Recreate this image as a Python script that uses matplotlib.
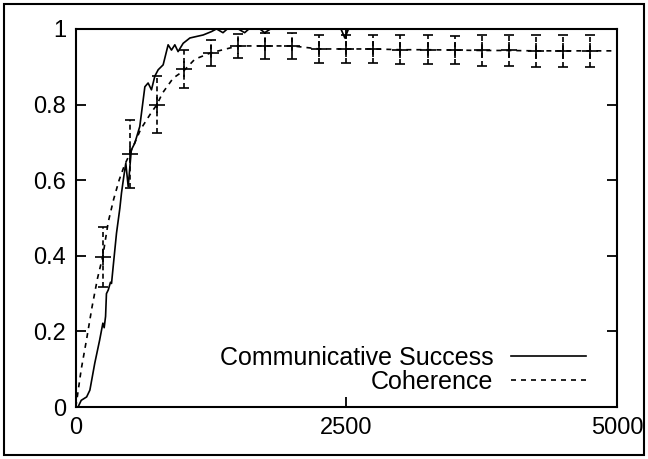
import matplotlib.pyplot as plt
import matplotlib.patches as mpatches

plt.rcParams['font.family'] = ['Liberation Sans', 'DejaVu Sans']

# communicative success (noisy solid line)
succ_x = [0, 20, 50, 100, 130, 175, 220, 250, 262, 275, 283, 300, 320, 330, 345, 376, 407,
          422, 443, 462, 484, 513, 545, 591, 638, 668, 699, 730, 761, 807, 853, 884, 915,
          945, 992, 1054, 1115, 1177, 1254, 1300, 1360, 1400, 1500, 1560, 1600, 1700, 1745,
          1800, 2000, 2200, 2450, 2486, 2520, 2700, 3000, 3500, 4000, 4500, 5000]
succ_y = [0.0, 0.0, 0.018, 0.027, 0.045, 0.116, 0.177, 0.222, 0.21, 0.24, 0.30, 0.31, 0.33,
          0.327, 0.371, 0.46, 0.526, 0.566, 0.609, 0.645, 0.583, 0.68, 0.698, 0.742, 0.847,
          0.857, 0.839, 0.875, 0.892, 0.905, 0.958, 0.944, 0.958, 0.94, 0.962, 0.976, 0.98,
          0.984, 0.993, 1.0, 0.99, 1.0, 1.0, 0.99, 1.0, 1.0, 0.99, 1.0, 1.0, 1.0, 1.0, 0.976,
          1.0, 1.0, 1.0, 1.0, 1.0, 1.0, 1.0]

# coherence (dashed line)
coh_x = [0, 50, 100, 150, 200, 250, 300, 350, 400, 450, 500, 600, 700, 750, 800, 900, 1000,
         1100, 1250, 1500, 1750, 2000, 2250, 2500, 2750, 3000, 3250, 3500, 3750, 4000, 4250,
         4500, 4750, 5000]
coh_y = [0.0, 0.10, 0.18, 0.265, 0.34, 0.40, 0.49, 0.55, 0.60, 0.64, 0.67, 0.735, 0.78, 0.80,
         0.83, 0.87, 0.89, 0.92, 0.937, 0.955, 0.955, 0.955, 0.947, 0.947, 0.947, 0.945, 0.945,
         0.944, 0.943, 0.943, 0.942, 0.942, 0.942, 0.942]

# error bars on coherence
err_x = [250, 500, 750, 1000, 1250, 1500, 1750, 2000, 2250, 2500, 2750, 3000, 3250, 3500,
         3750, 4000, 4250, 4500, 4750]
err_y = [0.397, 0.67, 0.80, 0.894, 0.937, 0.955, 0.955, 0.955, 0.947, 0.947, 0.947, 0.945,
         0.945, 0.944, 0.943, 0.943, 0.942, 0.942, 0.942]
err_e = [0.08, 0.09, 0.075, 0.05, 0.035, 0.032, 0.035, 0.035, 0.037, 0.037, 0.037, 0.038,
         0.038, 0.038, 0.04, 0.04, 0.042, 0.042, 0.042]

fig = plt.figure(figsize=(6.48, 4.59), dpi=100)
ax = fig.add_axes([0.117, 0.113, 0.835, 0.824])

ax.plot(succ_x, succ_y, color='black', lw=1.2, label='Communicative Success')
ax.plot(coh_x, coh_y, color='black', lw=1.2, ls=(0, (3, 3)), label='Coherence')
eb = ax.errorbar(err_x, err_y, yerr=err_e, fmt='none', ecolor='black', elinewidth=1.2,
                 capsize=3.5, capthick=1.2)
eb[2][0].set_linestyle((0, (3, 2)))
ax.plot(err_x, err_y, ls='none', marker='+', ms=11, mew=1.2, color='black')

ax.set_xlim(0, 5000)
ax.set_ylim(0, 1)
ax.set_xticks([0, 2500, 5000])
ax.set_yticks([0, 0.2, 0.4, 0.6, 0.8, 1])
ax.set_yticklabels(['0', '0.2', '0.4', '0.6', '0.8', '1'])
ax.tick_params(direction='in', length=7, width=1.3, labelsize=17, top=True, right=True, pad=7)
for s in ax.spines.values():
    s.set_linewidth(1.5)

ax.legend(loc='lower right', bbox_to_anchor=(0.97, -0.004), frameon=False, markerfirst=False,
          fontsize=18, handlelength=3.0, handletextpad=0.7, labelspacing=0.0,
          borderaxespad=0.2)

fig.patches.append(mpatches.Rectangle((0.006, 0.009), 0.988, 0.982, transform=fig.transFigure,
                                      fill=False, edgecolor='black', lw=1.5))

fig.savefig('out.png', dpi=100)
